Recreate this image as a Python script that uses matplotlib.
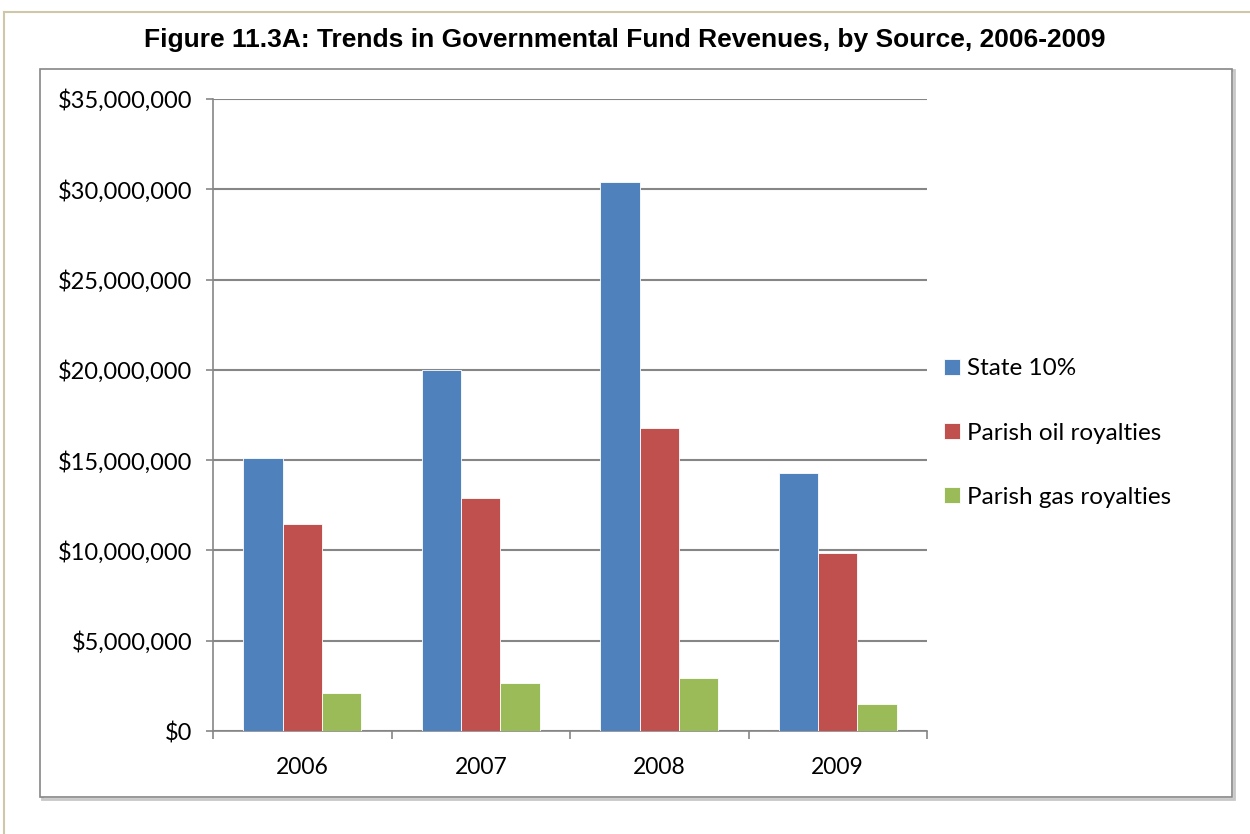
import matplotlib.pyplot as plt
from matplotlib.patches import Rectangle
from matplotlib.lines import Line2D
from matplotlib.ticker import FuncFormatter
import numpy as np

years = ['2006', '2007', '2008', '2009']
series = ['State 10%', 'Parish oil royalties', 'Parish gas royalties']
state = [15.12e6, 20.0e6, 30.43e6, 14.30e6]
oil = [11.45e6, 12.93e6, 16.79e6, 9.85e6]
gas = [2.12e6, 2.64e6, 2.91e6, 1.48e6]
colors = ['#4F81BD', '#C0504D', '#9BBB59']

plt.rcParams['font.family'] = ['Lato', 'DejaVu Sans']

fig = plt.figure(figsize=(12.5, 8.34), dpi=100)

# outer page border (tan) and chart box, kept behind the axes
fig.add_artist(Line2D([0.003, 0.003], [0, 0.986], color='#CFC8A8', lw=1.5,
                      transform=fig.transFigure, zorder=-5))
fig.add_artist(Line2D([0.003, 1], [0.986, 0.986], color='#CFC8A8', lw=1.5,
                      transform=fig.transFigure, zorder=-5))
fig.add_artist(Rectangle((0.0335, 0.0425), 0.9536, 0.873, transform=fig.transFigure,
                         facecolor='none', edgecolor='#C8C8C8', lw=2, zorder=-5))
fig.add_artist(Rectangle((0.032, 0.0444), 0.9536, 0.873, transform=fig.transFigure,
                         facecolor='white', edgecolor='#868686', lw=1.2, zorder=-4))

fig.text(0.5, 0.952, 'Figure 11.3A: Trends in Governmental Fund Revenues, by Source, 2006-2009',
         ha='center', va='center', fontsize=19, fontweight='bold', family='Liberation Sans')

ax = fig.add_axes([0.1704, 0.1235, 0.5712, 0.7578])
ax.patch.set_alpha(0)
x = np.arange(len(years))
w = 0.22
for i, (vals, c, lab) in enumerate(zip([state, oil, gas], colors, series)):
    ax.bar(x + (i - 1) * w, vals, w, color=c, edgecolor='white', linewidth=0.6, label=lab, zorder=3)

ax.set_xlim(-0.5, 3.5)
ax.set_ylim(0, 35e6)
ax.set_yticks(np.arange(0, 35e6 + 1, 5e6))
ax.yaxis.set_major_formatter(FuncFormatter(lambda v, p: '${:,.0f}'.format(v)))
ax.yaxis.grid(True, color='#868686', lw=1.5, zorder=0)
ax.set_axisbelow(True)

ax.set_xticks(x)
ax.set_xticklabels(years)
ax.set_xticks(np.arange(-0.5, 4, 1), minor=True)
ax.tick_params(axis='x', which='major', length=0, pad=18.5, labelsize=16.5)
ax.tick_params(axis='x', which='minor', length=6, color='#868686', width=1.2)
ax.tick_params(axis='y', length=5, color='#868686', width=1.2, pad=10, labelsize=17)

for s in ['top', 'right']:
    ax.spines[s].set_visible(False)
for s in ['left', 'bottom']:
    ax.spines[s].set_color('#868686')
    ax.spines[s].set_linewidth(1.2)

leg = ax.legend(loc='center left', bbox_to_anchor=(1.0238, 0.4715), frameon=False, fontsize=17.5,
                borderaxespad=0, borderpad=0,
                handlelength=0.66, handleheight=0.66, handletextpad=0.29, labelspacing=1.78)

fig.savefig('out.png', dpi=100)
